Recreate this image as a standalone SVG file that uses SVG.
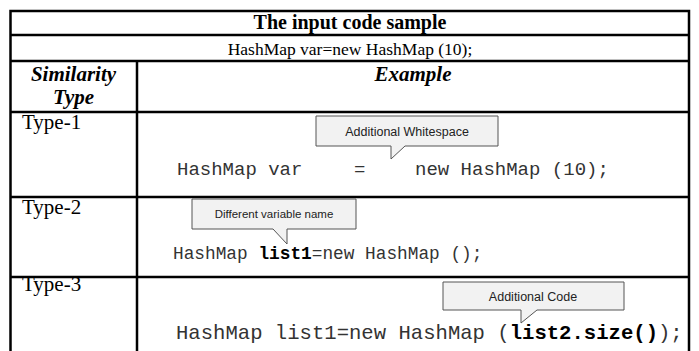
<svg xmlns="http://www.w3.org/2000/svg" width="699" height="351" viewBox="0 0 699 351">
<style>
.grid{stroke:#000;stroke-width:2.5;fill:none}
.tb{font-family:"Liberation Serif","Times New Roman",serif;font-weight:bold;font-size:20px;fill:#000}
.tbi{font-family:"Liberation Serif","Times New Roman",serif;font-weight:bold;font-style:italic;font-size:21px;fill:#000}
.tr{font-family:"Liberation Serif","Times New Roman",serif;font-size:21px;fill:#000}
.tr2{font-family:"Liberation Serif","Times New Roman",serif;font-size:17.5px;fill:#000}
.code{font-family:"Liberation Mono","Courier New",monospace;fill:#333}
.b{font-weight:bold;fill:#000}
.call{fill:#f2f2f2;stroke:#555;stroke-width:1}
.ct{font-family:"Liberation Sans",Arial,sans-serif;font-size:12.5px;fill:#222}
.cts{font-family:"Liberation Sans",Arial,sans-serif;font-size:11.5px;fill:#222}
</style>
<rect width="699" height="351" fill="#fff"/>
<g id="table">
<path class="grid" d="M10.5 351V11H689V351M10.5 35H689M10.5 61H689M10.5 112H689M10.5 197H689M10.5 277H689M137 61V351"/>
</g>
<g id="header">
<text class="tb" x="350" y="29" text-anchor="middle">The input code sample</text>
<text class="tr2" x="350" y="54.5" text-anchor="middle">HashMap var=new HashMap (10);</text>
<text class="tbi" x="73.5" y="81" text-anchor="middle">Similarity</text>
<text class="tbi" x="73.5" y="104" text-anchor="middle">Type</text>
<text class="tbi" x="413" y="81" text-anchor="middle">Example</text>
</g>
<g id="type1">
<text class="tr" x="22" y="129">Type-1</text>
<path class="call" d="M316 116H498V146H405L391 159V146H316Z"/>
<text class="ct" x="407" y="135.5" text-anchor="middle">Additional Whitespace</text>
<text class="code" font-size="19" y="175"><tspan x="177">HashMap var</tspan><tspan x="354">=</tspan><tspan x="415">new HashMap (10);</tspan></text>
</g>
<g id="type2">
<text class="tr" x="22" y="214">Type-2</text>
<path class="call" d="M192 199H356V229H287V244L273 229H192Z"/>
<text class="cts" x="274" y="218" text-anchor="middle">Different variable name</text>
<text class="code" font-size="17.8" x="173" y="259">HashMap <tspan class="b">list1</tspan>=new HashMap ();</text>
</g>
<g id="type3">
<text class="tr" x="22" y="291">Type-3</text>
<path class="call" d="M443 282H624V310H537L521 323V310H443Z"/>
<text class="ct" x="533" y="300.5" text-anchor="middle">Additional Code</text>
<text class="code" font-size="20.6" x="176" y="339">HashMap list1=new HashMap (<tspan class="b">list2.size()</tspan>);</text>
</g>
</svg>
